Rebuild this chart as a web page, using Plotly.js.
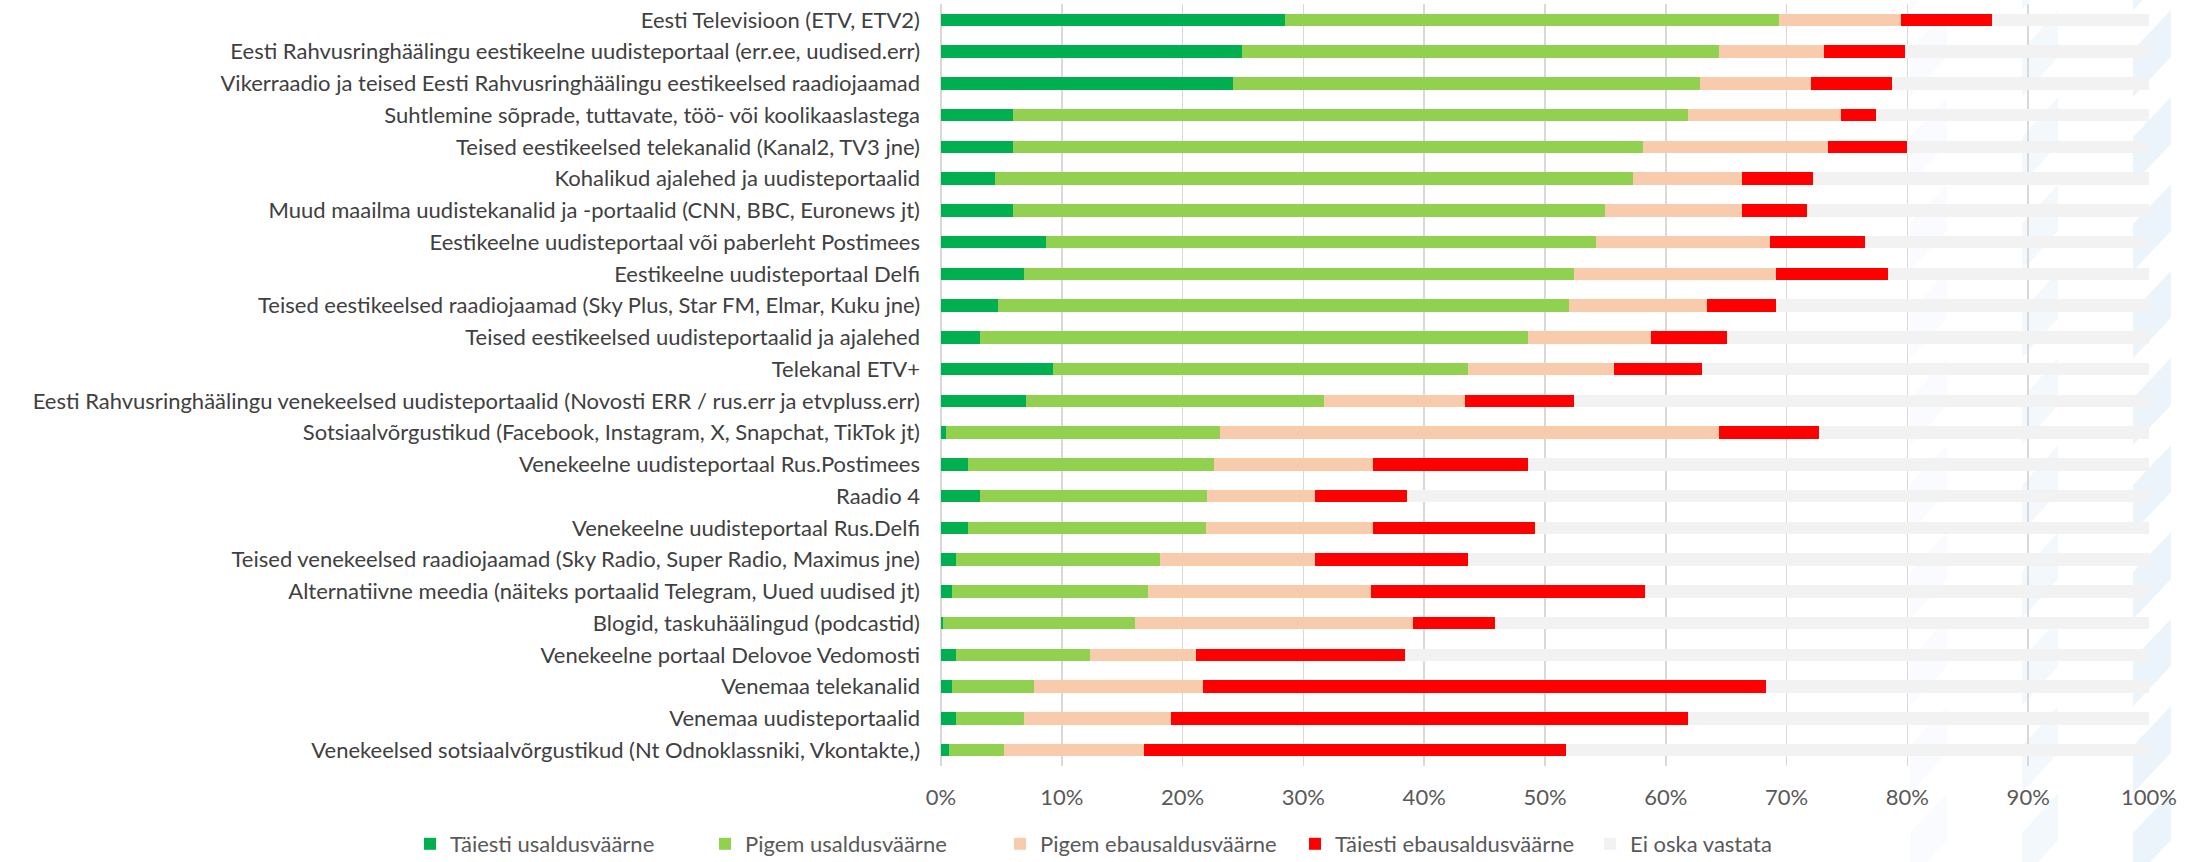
<!DOCTYPE html>
<html>
<head>
<meta charset="utf-8">
<script src="https://cdn.plot.ly/plotly-3.0.1.min.js"></script>
<style>html,body{margin:0;padding:0;background:#fff;}#chart{width:2203px;height:862px;}</style>
</head>
<body>
<div id="chart"></div>
<script>
const categories = [
  "Eesti Televisioon (ETV, ETV2)",
  "Eesti Rahvusringhäälingu eestikeelne uudisteportaal (err.ee, uudised.err)",
  "Vikerraadio ja teised Eesti Rahvusringhäälingu eestikeelsed raadiojaamad",
  "Suhtlemine sõprade, tuttavate, töö- või koolikaaslastega",
  "Teised eestikeelsed telekanalid (Kanal2, TV3 jne)",
  "Kohalikud ajalehed ja uudisteportaalid",
  "Muud maailma uudistekanalid ja -portaalid (CNN, BBC, Euronews jt)",
  "Eestikeelne uudisteportaal või paberleht Postimees",
  "Eestikeelne uudisteportaal Delfi",
  "Teised eestikeelsed raadiojaamad (Sky Plus, Star FM, Elmar, Kuku jne)",
  "Teised eestikeelsed uudisteportaalid ja ajalehed",
  "Telekanal ETV+",
  "Eesti Rahvusringhäälingu venekeelsed uudisteportaalid (Novosti ERR / rus.err ja etvpluss.err)",
  "Sotsiaalvõrgustikud (Facebook, Instagram, X, Snapchat, TikTok jt)",
  "Venekeelne uudisteportaal Rus.Postimees",
  "Raadio 4",
  "Venekeelne uudisteportaal Rus.Delfi",
  "Teised venekeelsed raadiojaamad (Sky Radio, Super Radio, Maximus jne)",
  "Alternatiivne meedia (näiteks portaalid Telegram, Uued uudised jt)",
  "Blogid, taskuhäälingud (podcastid)",
  "Venekeelne portaal Delovoe Vedomosti",
  "Venemaa telekanalid",
  "Venemaa uudisteportaalid",
  "Venekeelsed sotsiaalvõrgustikud (Nt Odnoklassniki, Vkontakte,)"
];

const seriesNames = ["Täiesti usaldusväärne", "Pigem usaldusväärne", "Pigem ebausaldusväärne", "Täiesti ebausaldusväärne", "Ei oska vastata"];

const fullyTrust    = [28.5,24.9,24.2,6.0,6.0,4.5,6.0,8.7,6.9,4.7,3.2,9.3,7.0,0.4,2.2,3.2,2.2,1.2,0.9,0.2,1.2,0.9,1.2,0.7];
const ratherTrust   = [40.9,39.5,38.6,55.8,52.1,52.8,49.0,45.5,45.5,47.3,45.4,34.3,24.7,22.7,20.4,18.8,19.7,16.9,16.2,15.9,11.1,6.8,5.7,4.5];
const ratherDistrust= [10.1,8.7,9.2,12.7,15.3,9.0,11.3,14.4,16.7,11.4,10.2,12.1,11.7,41.3,13.2,9.0,13.9,12.9,18.5,23.0,8.8,14.0,12.1,11.6];
const fullyDistrust = [7.5,6.7,6.7,2.9,6.6,5.9,5.4,7.9,9.3,5.7,6.3,7.3,9.0,8.3,12.8,7.6,13.4,12.6,22.7,6.8,17.3,46.6,42.8,34.9];
const dontKnow      = [13.0,20.2,21.3,22.6,20.0,27.8,28.3,23.5,21.6,30.9,34.9,37.0,47.6,27.3,51.4,61.4,50.8,56.4,41.7,54.1,61.6,31.7,38.2,48.3];

const xTickVals = [0,10,20,30,40,50,60,70,80,90,100];
const xTickText = ["0%","10%","20%","30%","40%","50%","60%","70%","80%","90%","100%"];

const seriesValues = [fullyTrust, ratherTrust, ratherDistrust, fullyDistrust, dontKnow];
const seriesColors = ["#00b050", "#92d050", "#f8cbad", "#ff0000", "#f2f2f2"];

const FONT = "Lato, 'Open Sans', sans-serif";
const FS = 22;

const traces = seriesValues.map((vals, i) => ({
  type: "bar",
  orientation: "h",
  name: seriesNames[i],
  y: categories,
  x: vals,
  marker: {color: seriesColors[i], line: {width: 0}},
  hoverinfo: "name+x"
}));

// decorative faint watermark stripes on the right
const W = 2203, H = 862, ML = 941, MR = 54, MT = 4, MB = 96;
const pw = W - ML - MR, ph = H - MT - MB;
const px = v => (v - ML) / pw;
const py = v => (H - MB - v) / ph;
const stripeCols = [[1910, 1947, "#f9fbfe"], [2022, 2058, "#f3f8fc"], [2133, 2171, "#ecf4fb"]];
const shapes = [];
stripeCols.forEach(([xl, xr, c]) => {
  for (let t = -77; t < H; t += 87) {
    const path = `M${px(xr)},${py(t)} L${px(xr)},${py(t + 47)} L${px(xl)},${py(t + 87)} L${px(xl)},${py(t + 40)} Z`;
    shapes.push({type: "path", xref: "paper", yref: "paper", path, fillcolor: c, line: {width: 0}, layer: "below"});
  }
});

const layout = {
  width: W, height: H,
  margin: {l: ML, r: MR, t: MT, b: MB, pad: 0, autoexpand: false},
  paper_bgcolor: "#ffffff",
  plot_bgcolor: "rgba(0,0,0,0)",
  barmode: "stack",
  bargap: 0.6,
  font: {family: FONT, size: FS, color: "#404040"},
  xaxis: {
    range: [0, 100],
    tickvals: xTickVals,
    ticktext: xTickText,
    showgrid: true,
    gridcolor: "#d9d9d9",
    gridwidth: 1.5,
    zeroline: true,
    zerolinecolor: "#d9d9d9",
    zerolinewidth: 1.5,
    showline: false,
    ticks: "",
    ticklabelstandoff: 16,
    automargin: false,
    tickfont: {family: FONT, size: FS, color: "#595959"},
    fixedrange: true
  },
  yaxis: {
    type: "category",
    autorange: "reversed",
    showgrid: false,
    zeroline: false,
    ticks: "",
    ticklabelstandoff: 20,
    automargin: false,
    tickfont: {family: FONT, size: FS, color: "#404040"},
    fixedrange: true
  },
  legend: {
    orientation: "h",
    xref: "paper", yref: "paper",
    x: (410 - ML) / pw, xanchor: "left",
    y: (H - MB - 844) / ph, yanchor: "middle",
    traceorder: "normal",
    font: {family: FONT, size: FS, color: "#595959"},
    entrywidth: 250,
    itemwidth: 30,
    bgcolor: "rgba(0,0,0,0)"
  },
  shapes: shapes,
  showlegend: true
};

Plotly.newPlot("chart", traces, layout, {displayModeBar: false, staticPlot: true});
</script>
</body>
</html>
